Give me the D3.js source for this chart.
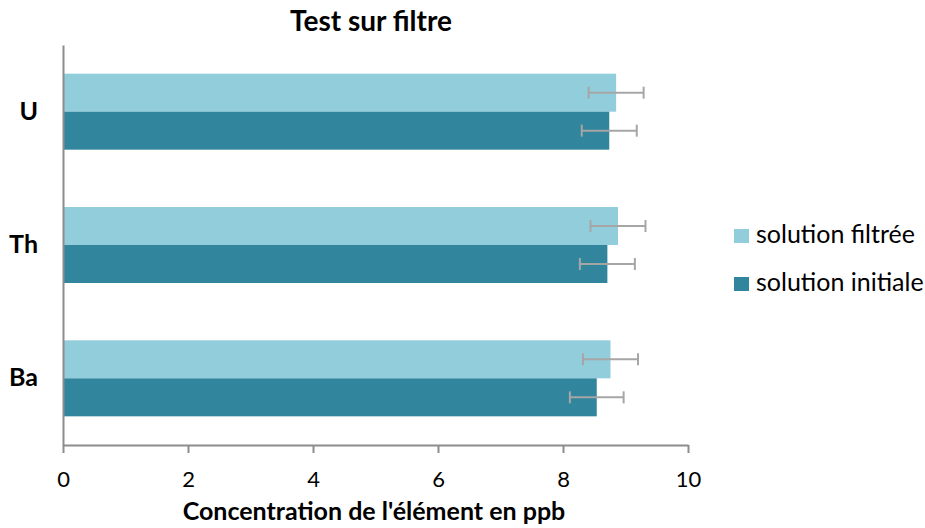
<!DOCTYPE html>
<html>
<head>
<meta charset="utf-8">
<script src="https://cdn.jsdelivr.net/npm/d3@7"></script>
<style>
  html, body { margin: 0; padding: 0; background: #fff; }
  svg { display: block; font-family: Lato, "Open Sans", sans-serif; }
</style>
</head>
<body>
<svg id="chart" width="925" height="528"></svg>
<script>
// Elements (top to bottom) and measured concentrations (ppb)
const elements = ["U", "Th", "Ba"];
const seriesNames = ["solution filtrée", "solution initiale"];
const filtree = [8.85, 8.88, 8.76];
const initiale = [8.74, 8.71, 8.54];
// Error bar half-widths (ppb)
const errFiltree = [0.44, 0.44, 0.44];
const errInitiale = [0.44, 0.44, 0.43];
const xTicks = [0, 2, 4, 6, 8, 10];

const colors = ["#92CDDC", "#31859C"];
const axisColor = "#8C8C8C";
const errColor = "#A6A6A6";
const font = "Lato, sans-serif";

const svg = d3.select("#chart");
const m = { left: 63, right: 688, top: 45, bottom: 445 };

const x = d3.scaleLinear().domain([0, 10]).range([m.left, m.right]);
const y = d3.scaleBand().domain(elements).range([m.top, m.bottom]).paddingInner(0.43).paddingOuter(0.215);
const sub = d3.scaleBand().domain(seriesNames).range([0, y.bandwidth()]);

const series = [
  { name: seriesNames[0], values: filtree, errs: errFiltree, color: colors[0] },
  { name: seriesNames[1], values: initiale, errs: errInitiale, color: colors[1] }
];

// Bars
series.forEach(s => {
  svg.append("g").selectAll("rect")
    .data(elements.map((e, i) => ({ e, v: s.values[i], err: s.errs[i] })))
    .join("rect")
    .attr("x", x(0))
    .attr("y", d => y(d.e) + sub(s.name))
    .attr("width", d => x(d.v) - x(0))
    .attr("height", sub.bandwidth())
    .attr("fill", s.color);
});

// Error bars
series.forEach(s => {
  const g = svg.append("g").attr("stroke", errColor).attr("stroke-width", 2).attr("fill", "none");
  elements.forEach((e, i) => {
    const cy = y(e) + sub(s.name) + sub.bandwidth() / 2;
    const x0 = x(s.values[i] - s.errs[i]);
    const x1 = x(s.values[i] + s.errs[i]);
    g.append("line").attr("x1", x0).attr("x2", x1).attr("y1", cy).attr("y2", cy);
    g.append("line").attr("x1", x0).attr("x2", x0).attr("y1", cy - 6).attr("y2", cy + 6);
    g.append("line").attr("x1", x1).attr("x2", x1).attr("y1", cy - 6).attr("y2", cy + 6);
  });
});

// X axis
const xAxis = svg.append("g")
  .attr("transform", `translate(0,${m.bottom})`)
  .call(d3.axisBottom(x).tickValues(xTicks).tickSize(8).tickSizeOuter(0).tickPadding(10));
xAxis.select(".domain").attr("stroke", axisColor).attr("stroke-width", 2);
xAxis.selectAll(".tick line").attr("stroke", axisColor).attr("stroke-width", 2);
xAxis.selectAll(".tick text")
  .attr("y", 42).attr("dy", null)
  .attr("font-size", 22).attr("fill", "#000").attr("font-family", font);

// Y axis
const yAxis = svg.append("g")
  .attr("transform", `translate(${m.left},0)`)
  .call(d3.axisLeft(y).tickSize(0).tickPadding(25));
yAxis.select(".domain").attr("stroke", axisColor).attr("stroke-width", 2);
yAxis.selectAll(".tick text")
  .attr("font-size", 25).attr("font-weight", "bold").attr("fill", "#000").attr("font-family", font);

// Title
svg.append("text")
  .attr("x", 371).attr("y", 31)
  .attr("text-anchor", "middle")
  .attr("font-size", 28).attr("font-weight", "bold")
  .text("Test sur filtre");

// X axis title
svg.append("text")
  .attr("x", 374).attr("y", 520)
  .attr("text-anchor", "middle")
  .attr("font-size", 25).attr("font-weight", "bold")
  .text("Concentration de l'élément en ppb");

// Legend
const legend = svg.append("g");
series.forEach((s, i) => {
  const ly = 243 + i * 48;
  legend.append("rect").attr("x", 734).attr("y", ly - 14).attr("width", 15).attr("height", 14).attr("fill", s.color);
  legend.append("text").attr("x", 756).attr("y", ly).attr("font-size", 25).attr("fill", "#000").text(s.name);
});
</script>
</body>
</html>
